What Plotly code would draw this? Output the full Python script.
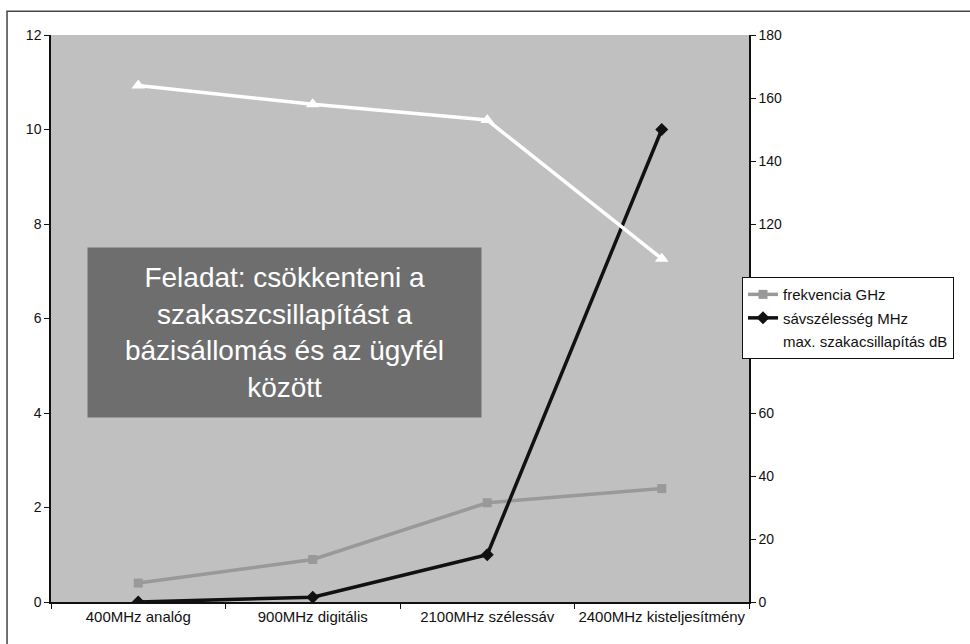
import plotly.graph_objects as go

categories = ["400MHz analóg", "900MHz digitális", "2100MHz szélessáv", "2400MHz kisteljesítmény"]
frekvencia_ghz = [0.4, 0.9, 2.1, 2.4]
savszelesseg = [0, 0.1, 1.0, 10.0]
max_szakacsillapitas_db = [164, 158, 153, 109]
left_ticks = [0, 2, 4, 6, 8, 10, 12]
right_ticks = [0, 20, 40, 60, 80, 100, 120, 140, 160, 180]
box_text = "Feladat: csökkenteni a<br>szakaszcsillapítást a<br>bázisállomás és az ügyfél<br>között"

fig = go.Figure()
fig.add_trace(go.Scatter(
    x=categories, y=frekvencia_ghz, name="frekvencia GHz", legendgroup="a",
    mode="lines+markers", line=dict(color="#999999", width=3.5),
    marker=dict(symbol="square", size=9, color="#999999"), yaxis="y"))
fig.add_trace(go.Scatter(
    x=categories, y=savszelesseg, name="sávszélesség MHz", legendgroup="b",
    mode="lines+markers", line=dict(color="#111111", width=3.5),
    marker=dict(symbol="diamond", size=10, color="#111111"), yaxis="y"))
fig.add_trace(go.Scatter(
    x=categories, y=max_szakacsillapitas_db, name="max. szakacsillapítás dB", legendgroup="c",
    mode="lines+markers", line=dict(color="#ffffff", width=3.5),
    marker=dict(symbol="triangle-up", size=12, color="#ffffff"), yaxis="y2"))

tickfont = dict(family="Liberation Sans, Arial, sans-serif", size=14, color="#111111")
xtickfont = dict(family="Liberation Sans, Arial, sans-serif", size=15, color="#111111")

fig.update_layout(
    width=970, height=644,
    margin=dict(l=51, r=221, t=35, b=42, autoexpand=False),
    paper_bgcolor="white", plot_bgcolor="#c0c0c0",
    showlegend=True,
    legend=dict(x=0.99, y=0.573, xanchor="left", yanchor="top",
                bgcolor="white", bordercolor="#111111", borderwidth=1,
                font=dict(family="Liberation Sans, Arial, sans-serif", size=15, color="#111111"),
                tracegroupgap=1, itemwidth=30),
    xaxis=dict(type="category", range=[-0.5, 3.5], showgrid=False, zeroline=False,
               showline=True, linecolor="#111111", linewidth=1.5, tickangle=0,
               ticks="outside", ticklen=5, tickcolor="#111111", tickson="boundaries",
               tickfont=xtickfont),
    yaxis=dict(range=[0, 12], tickvals=left_ticks, showgrid=False, zeroline=False,
               showline=True, linecolor="#111111", linewidth=1.5,
               ticks="outside", ticklen=5, tickcolor="#111111", tickfont=tickfont),
    yaxis2=dict(range=[0, 180], tickvals=right_ticks, overlaying="y", side="right",
                showgrid=False, zeroline=False, showline=True, linecolor="#111111",
                linewidth=1.5, ticks="outside", ticklen=5, tickcolor="#111111",
                tickfont=tickfont),
    shapes=[dict(type="rect", xref="paper", yref="paper",
                 x0=-0.063, y0=1.042, x1=1.6, y1=-0.2,
                 line=dict(color="#444444", width=1.5), fillcolor="rgba(0,0,0,0)", layer="above")],
    annotations=[dict(text=box_text, xref="paper", yref="paper",
                      x=0.3345, y=0.4753, xanchor="center", yanchor="middle",
                      showarrow=False, width=393, height=169, align="center",
                      bgcolor="#6e6e6e", borderpad=0,
                      font=dict(family="Liberation Sans Narrow, Arial Narrow, Liberation Sans, sans-serif",
                                size=28, color="white"))],
)

fig.write_html("out.html", config={"displayModeBar": False},
               post_script="document.body.style.margin='0';document.body.style.overflow='hidden';")
